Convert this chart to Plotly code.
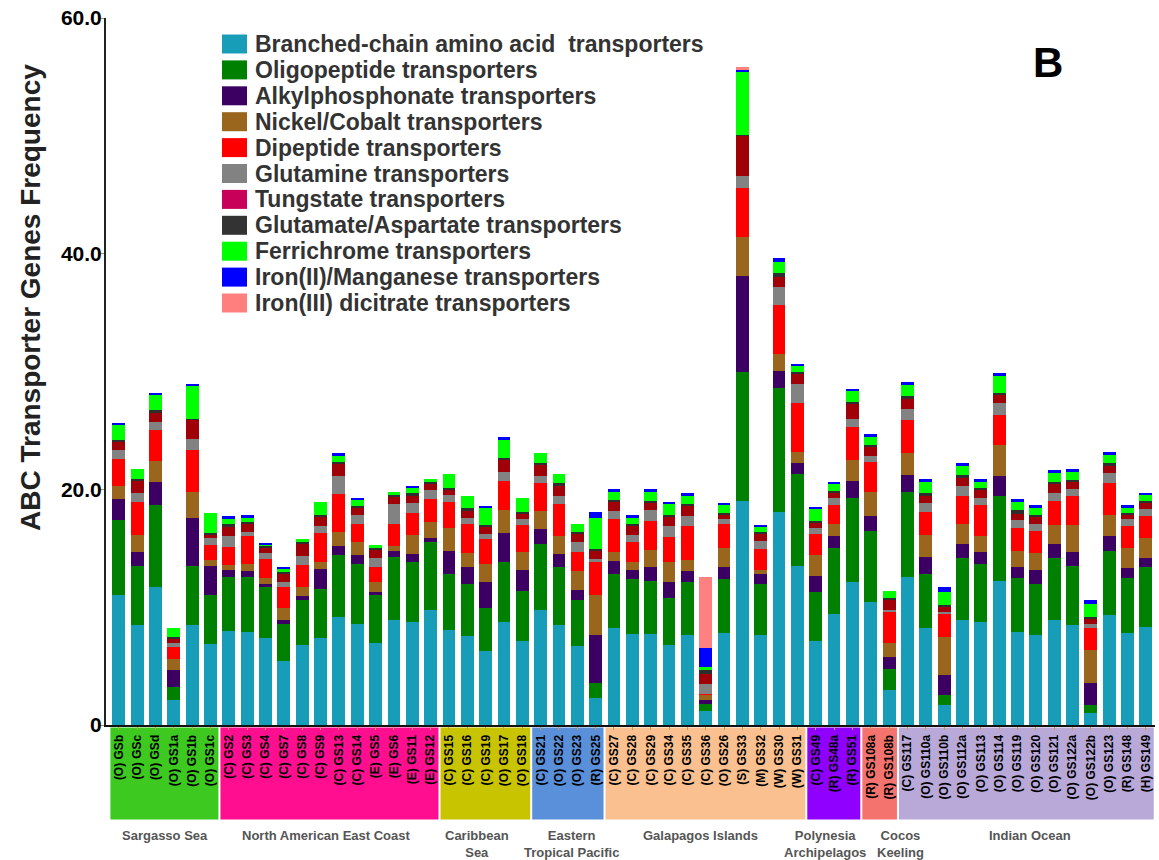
import plotly.graph_objects as go

# Samples (x-axis categories), grouped by collection region
samples = [
    "(O) GSb", "(O) GSc", "(O) GSd", "(O) GS1a", "(O) GS1b", "(O) GS1c",
    "(C) GS2", "(C) GS3", "(C) GS4", "(C) GS7", "(C) GS8", "(C) GS9", "(C) GS13", "(C) GS14",
    "(E) GS5", "(E) GS6", "(E) GS11", "(E) GS12",
    "(C) GS15", "(C) GS16", "(C) GS19", "(O) GS17", "(O) GS18",
    "(C) GS21", "(O) GS22", "(O) GS23", "(R) GS25",
    "(C) GS27", "(C) GS28", "(C) GS29", "(C) GS34", "(C) GS35", "(C) GS36", "(O) GS26",
    "(S) GS33", "(M) GS32", "(W) GS30", "(W) GS31",
    "(C) GS49", "(R) GS48a", "(R) GS51",
    "(R) GS108a", "(R) GS108b",
    "(C) GS117", "(O) GS110a", "(O) GS110b", "(O) GS112a", "(O) GS113", "(O) GS114", "(O) GS119",
    "(O) GS120", "(O) GS121", "(O) GS122a", "(O) GS122b", "(O) GS123", "(R) GS148", "(H) GS149",
]

regions = ["Sargasso Sea", "North American East Coast", "Caribbean<br>Sea",
           "Eastern<br>Tropical Pacific", "Galapagos Islands", "Polynesia<br>Archipelagos",
           "Cocos<br>Keeling", "Indian Ocean"]
region_sizes = [6, 12, 5, 4, 11, 3, 2, 14]

# Gene frequencies per transporter family (one value per sample)
branched_chain = [11.0, 8.5, 11.7, 2.1, 8.5, 6.9,
                  8.0, 7.9, 7.35, 5.45, 6.8, 7.35, 9.15, 8.55, 6.95, 8.95, 8.75, 9.8,
                  8.1, 7.55, 6.3, 8.75, 7.15,
                  9.8, 8.5, 6.7, 2.25,
                  8.2, 7.7, 7.7, 6.8, 7.65, 1.15, 7.8, 19.05, 7.65, 18.1, 13.5,
                  7.1, 9.45, 12.15,
                  10.45, 2.95,
                  12.55, 8.2, 1.7, 8.9, 8.7, 12.25, 7.9, 7.65, 8.95, 8.5, 1.05, 9.35, 7.85, 8.35]
oligopeptide = [6.4, 5.0, 7.0, 1.15, 5.0, 4.1,
                4.6, 4.7, 4.35, 3.1, 3.8, 4.15, 5.25, 5.1, 4.1, 5.35, 5.1, 5.7,
                4.7, 4.4, 3.6, 5.1, 4.25,
                5.55, 4.9, 3.9, 1.35,
                4.65, 4.65, 4.55, 3.95, 4.5, 0.65, 4.55, 10.95, 4.35, 10.5, 7.8,
                4.15, 5.55, 7.1,
                6.05, 1.8,
                7.25, 4.65, 0.85, 5.25, 4.95, 7.2, 4.55, 4.35, 5.2, 5.0, 0.65, 5.45, 4.6, 5.05]
alkylphosphonate = [1.8, 1.2, 1.9, 1.45, 4.1, 2.5,
                    0.55, 0.5, 0.25, 0.35, 0.35, 1.7, 0.8, 0.75, 0.2, 0.5, 0.7, 0.35,
                    2.0, 1.45, 2.25, 2.45, 1.75,
                    1.25, 1.15, 0.85, 4.05,
                    1.1, 0.8, 1.15, 1.4, 0.95, 0.3, 1.1, 8.1, 0.8, 1.45, 0.9,
                    1.4, 1.0, 1.45,
                    1.25, 1.0,
                    1.4, 1.45, 1.7, 1.25, 1.05, 1.7, 1.0, 1.15, 1.25, 1.2, 1.85, 1.2, 0.85, 0.8]
nickel_cobalt = [1.1, 1.4, 1.8, 0.9, 2.15, 0.5,
                 0.45, 0.6, 0.5, 1.0, 0.8, 0.6, 1.15, 1.15, 0.85, 0.4, 1.55, 1.4,
                 1.95, 1.2, 1.5, 1.95, 1.55,
                 1.6, 1.5, 1.6, 3.4,
                 0.75, 0.7, 1.45, 1.65, 0.9, 0.45, 1.55, 3.35, 0.35, 1.45, 1.0,
                 1.75, 1.1, 1.8,
                 2.0, 1.2,
                 1.85, 1.8, 3.2, 1.7, 1.3, 2.6, 1.35, 1.45, 1.55, 2.25, 2.8, 1.8, 1.7, 1.65]
dipeptide = [2.3, 2.8, 2.6, 1.05, 3.55, 1.3,
             1.5, 2.3, 1.6, 1.8, 1.85, 2.5, 3.25, 1.55, 1.35, 1.9, 1.9, 1.9,
             2.2, 2.45, 2.15, 2.5, 2.3,
             2.35, 2.7, 1.65, 2.8,
             2.75, 1.65, 2.5, 2.15, 2.85, 0.1, 2.05, 4.1, 1.75, 4.15, 4.1,
             1.85, 1.55, 2.75,
             2.6, 2.65,
             2.85, 2.0, 1.95, 2.3, 2.65, 2.55, 1.95, 1.9, 2.05, 2.5, 1.85, 2.75, 1.85, 1.9]
glutamine = [0.7, 0.8, 0.7, 0.3, 1.0, 0.55,
             0.9, 0.4, 0.55, 0.45, 0.75, 0.6, 1.5, 0.7, 0.7, 1.65, 0.8, 0.8,
             0.55, 0.55, 0.45, 0.75, 0.45,
             0.55, 0.7, 0.8, 0.2,
             0.75, 0.6, 0.9, 0.9, 0.9, 0.85, 0.4, 1.05, 0.75, 1.5, 1.6,
             0.45, 0.6, 0.75,
             0.45, 0.2,
             0.9, 0.7, 0.2, 0.9, 0.65, 1.0, 0.65, 0.6, 0.7, 0.55, 0.4, 0.8, 0.6, 0.55]
tungstate = [0.7, 1.0, 0.8, 0.35, 1.6, 0.35,
             0.8, 0.65, 0.4, 0.7, 1.05, 0.8, 1.05, 0.6, 0.7, 0.65, 0.65, 0.55,
             0.5, 0.6, 0.6, 1.0, 0.5,
             0.95, 0.85, 0.7, 0.8,
             0.75, 0.8, 0.6, 0.85, 0.85, 0.85, 0.45, 3.4, 0.55, 0.85, 0.9,
             0.45, 0.45, 1.3,
             0.8, 0.85,
             0.9, 0.7, 0.45, 0.7, 0.65, 0.7, 0.5, 0.6, 0.75, 0.65, 0.45, 0.6, 0.45, 0.55]
glutamate_aspartate = [0.2, 0.2, 0.2, 0.15, 0.1, 0.1,
                       0.25, 0.2, 0.2, 0.2, 0.15, 0.1, 0.2, 0.2, 0.25, 0.1, 0.25, 0.15,
                       0.1, 0.2, 0.15, 0.15, 0.15,
                       0.2, 0.2, 0.2, 0.1,
                       0.15, 0.15, 0.2, 0.1, 0.15, 0.35, 0.1, 0.1, 0.2, 0.4, 0.2,
                       0.2, 0.2, 0.15,
                       0.15, 0.1,
                       0.2, 0.15, 0.15, 0.2, 0.15, 0.2, 0.35, 0.1, 0.2, 0.15, 0.1, 0.25, 0.1, 0.2]
ferrichrome = [1.3, 0.8, 1.3, 0.75, 2.8, 1.7,
               0.4, 0.35, 0.1, 0.15, 0.2, 1.1, 0.5, 0.55, 0.15, 0.3, 0.45, 0.2,
               1.2, 1.0, 1.4, 1.6, 1.15,
               0.85, 0.8, 0.65, 2.65,
               0.65, 0.55, 0.75, 0.95, 0.7, 0.2, 0.65, 5.3, 0.4, 0.9, 0.45,
               0.95, 0.55, 0.9,
               0.7, 0.65,
               0.95, 1.0, 1.05, 0.8, 0.55, 1.4, 0.7, 0.65, 0.7, 0.7, 1.15, 0.7, 0.5, 0.45]
iron2_manganese = [0.15, 0, 0.2, 0, 0.15, 0,
                   0.25, 0.2, 0.1, 0.2, 0, 0, 0.25, 0.15, 0, 0, 0.15, 0,
                   0, 0, 0.2, 0.15, 0,
                   0, 0, 0, 0.5,
                   0.3, 0.2, 0.25, 0.2, 0.25, 1.6, 0.2, 0.2, 0.2, 0.3, 0.2,
                   0.2, 0.2, 0.2,
                   0.25, 0,
                   0.3, 0.25, 0.45, 0.25, 0.2, 0.25, 0.2, 0.2, 0.25, 0.25, 0.3, 0.3, 0.15, 0.2]
iron3_dicitrate = [0, 0, 0, 0, 0, 0,
                   0, 0, 0, 0, 0, 0, 0, 0, 0, 0, 0, 0,
                   0, 0, 0, 0, 0,
                   0, 0, 0, 0,
                   0, 0, 0, 0, 0, 6.05, 0, 0.2, 0, 0, 0,
                   0, 0, 0,
                   0, 0,
                   0, 0, 0, 0, 0, 0, 0, 0, 0, 0, 0, 0, 0, 0]

series_names = [
    "Branched-chain amino acid  transporters", "Oligopeptide transporters",
    "Alkylphosphonate transporters", "Nickel/Cobalt transporters", "Dipeptide transporters",
    "Glutamine transporters", "Tungstate transporters", "Glutamate/Aspartate transporters",
    "Ferrichrome transporters", "Iron(II)/Manganese transporters", "Iron(III) dicitrate transporters",
]
series_values = [branched_chain, oligopeptide, alkylphosphonate, nickel_cobalt, dipeptide,
                 glutamine, tungstate, glutamate_aspartate, ferrichrome, iron2_manganese,
                 iron3_dicitrate]

bar_colors = ["#189DB8", "#008000", "#3C0062", "#9A651C", "#FF0000", "#828282",
              "#A00008", "#2E2E2E", "#00FF00", "#0000FF", "#FF8080"]
key_colors = ["#189DB8", "#008000", "#3C0062", "#9A651C", "#FF0000", "#828282",
              "#C8005A", "#333333", "#00FF00", "#0000FF", "#FF7F7F"]
region_colors = ["#3DC91F", "#FF0F8F", "#C9C400", "#5A8FDA", "#FAC08F",
                 "#9000FF", "#F4736E", "#B8A9D9"]

FONT = "Arial, Liberation Sans, sans-serif"
W, H = 1159, 860
ML, MR, MT, MB = 106, 4, 18, 135
XR = (-0.7, 56.5)
plot_w = W - ML - MR
plot_h = H - MT - MB


def px_to_paper_x(px):
    return (px - ML) / plot_w


def px_to_paper_y(py):
    return (H - MB - py) / plot_h


def idx_to_paper_x(i):
    return (i - XR[0]) / (XR[1] - XR[0])


fig = go.Figure()
for name, vals, color in zip(series_names, series_values, bar_colors):
    fig.add_trace(go.Bar(x=samples, y=vals, name=name, marker_color=color,
                         marker_line_width=0, showlegend=False))

shapes = []
annotations = []

# Coloured region boxes under the sample labels, and region names below them
label_shift = [0.0, -0.15, -0.45, 0.2, -0.3, -0.5, 1.1, 0.18]
start = 0
for name, n, col, shift in zip(regions, region_sizes, region_colors, label_shift):
    end = start + n - 1
    shapes.append(dict(type="rect", xref="paper", yref="paper",
                       x0=idx_to_paper_x(start - 0.46), x1=idx_to_paper_x(end + 0.43),
                       y0=px_to_paper_y(819.5), y1=px_to_paper_y(727.5),
                       fillcolor=col, line_width=0, layer="below"))
    annotations.append(dict(text=name, xref="paper", yref="paper",
                            x=idx_to_paper_x((start + end) / 2 + shift),
                            y=px_to_paper_y(826), xanchor="center", yanchor="top",
                            showarrow=False, align="center",
                            font=dict(family=FONT, size=13, color="#555555", weight="bold")))
    start = end + 1

# Key of transporter families
row0, row_step = 44, 25.9
for k, (name, col) in enumerate(zip(series_names, key_colors)):
    cy = row0 + k * row_step
    shapes.append(dict(type="rect", xref="paper", yref="paper",
                       x0=px_to_paper_x(222), x1=px_to_paper_x(247),
                       y0=px_to_paper_y(cy + 9.5), y1=px_to_paper_y(cy - 9.5),
                       fillcolor=col, line_width=0))
    annotations.append(dict(text=name, xref="paper", yref="paper",
                            x=px_to_paper_x(253), y=px_to_paper_y(cy),
                            xanchor="left", yanchor="middle", showarrow=False,
                            font=dict(family=FONT, size=23, color="#333333", weight="bold")))

# Panel letter
annotations.append(dict(text="B", xref="paper", yref="paper",
                        x=px_to_paper_x(1048), y=px_to_paper_y(63),
                        xanchor="center", yanchor="middle", showarrow=False,
                        font=dict(family=FONT, size=42, color="#000000", weight="bold")))

# Y-axis title
annotations.append(dict(text="ABC Transporter Genes Frequency", xref="paper", yref="paper",
                        x=px_to_paper_x(30), y=px_to_paper_y(298), textangle=-90,
                        xanchor="center", yanchor="middle", showarrow=False,
                        font=dict(family=FONT, size=28, color="#222222", weight="bold")))

fig.update_layout(
    width=W, height=H,
    margin=dict(l=ML, r=MR, t=MT, b=MB),
    barmode="stack", bargap=0.3,
    plot_bgcolor="white", paper_bgcolor="white",
    shapes=shapes, annotations=annotations,
    xaxis=dict(type="category", range=list(XR), tickmode="array", tickvals=samples,
               ticktext=samples, tickangle=-90, showgrid=False, showline=True,
               linecolor="#111111", linewidth=2, ticks="outside", ticklen=3,
               tickcolor="#C8A040",
               tickfont=dict(family=FONT, size=12, color="#000000", weight="bold")),
    yaxis=dict(range=[0, 60], tickmode="array", tickvals=[0, 20, 40, 60],
               ticktext=["0", "20.0", "40.0", "60.0"], showgrid=False, zeroline=False,
               showline=True, linecolor="#222222", linewidth=2, ticks="outside",
               ticklen=4, tickcolor="#A89858", ticklabelstandoff=-6,
               tickfont=dict(family=FONT, size=21, color="#000000", weight="bold")),
)

fig.write_html("out.html")
